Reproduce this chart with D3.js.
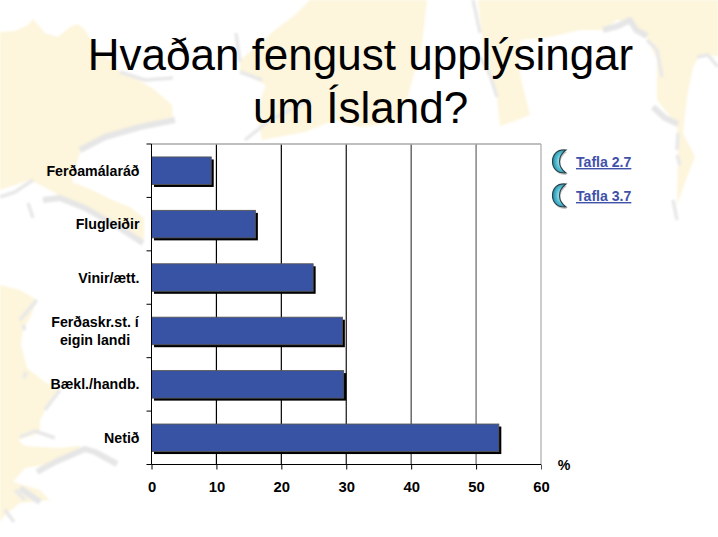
<!DOCTYPE html>
<html><head><meta charset="utf-8">
<script src="https://cdn.jsdelivr.net/npm/d3@7/dist/d3.min.js"></script>
<style>
html,body{margin:0;padding:0;background:#fff;overflow:hidden}
svg{display:block}
text{font-family:"Liberation Sans",Arial,sans-serif;fill:#000}
.lab{font-weight:bold;font-size:14.2px}
.tick text.lab{font-size:14.8px}
</style></head><body><div id="c"></div>
<script>
const categories = ["Ferðamálaráð","Flugleiðir","Vinir/ætt.","Ferðaskr.st. í|eigin landi","Bækl./handb.","Netið"];
const values = [9.2,16,24.9,29.4,29.6,53.5];
const xTicks = [0,10,20,30,40,50,60];
const gridColors = ["#000","#000","#000","#111","#444","#666","#aaa"];
const titleLines = ["Hvaðan fengust upplýsingar","um Ísland?"];
const links = ["Tafla 2.7","Tafla 3.7"];

// decorative background map
const landShapes = [
 "M0,32L15,31L28,25L33,19L45,33L58,37L70,27L78,24L85,30L95,47L112,62L120,72L135,78L155,90L172,105L173,117L140,125L105,135L82,148L76,165L72,182L92,190L112,200L130,207L144,218L144,240L110,225L75,205L50,190L30,180L0,190Z",
 "M0,285L20,290L37,300L30,318L23,330L21,345L27,368L45,382L60,390L48,405L40,420L40,433L18,440L25,446L60,448L78,446L85,449L60,458L45,465L25,468L13,482L40,490L50,500L20,503L5,515L0,522Z",
 "M310,0L427,0L422,45L415,70L407,100L397,122L360,127L335,120L305,132L262,140L258,118L262,95L266,85L240,72L240,60L258,45L275,30L295,15Z",
 "M478,0L718,0L718,56L700,55L693,67L687,97L683,133L695,157L686,180L677,205L678,150L677,125L657,100L657,60L647,38L630,22L617,20L603,30L580,30L550,37L520,40L520,75L530,115L512,122L500,126L497,97L484,55Z"
];
const coastWide = [
 "M175,120L140,127L105,137L80,150",
 "M43,200L60,198L85,208L120,228L143,243",
 "M603,30L618,26L630,20L636,30L647,36",
 "M653,107L665,118L678,124",
 "M40,502L20,488",
 "M117,464L95,452L85,449L55,462L37,472"
];
const coastThin = [
 "M0,197L15,192L33,180",
 "M28,203L33,218",
 "M120,72L145,80L173,78",
 "M236,33L240,62",
 "M37,300L20,320M26,372L24,378M23,325L25,330",
 "M60,390L45,410",
 "M20,437L35,431L55,438",
 "M15,490L25,500M5,510L14,522",
 "M240,72L262,80",
 "M245,140L270,120L310,100",
 "M473,0L480,33M480,57L490,75L497,97",
 "M647,40L657,50L662,77",
 "M678,133L677,150M677,155L680,165M673,200L677,220",
 "M697,57L708,55L718,67"
];

const W=718,H=537;
const svg=d3.select("#c").append("svg").attr("width",W).attr("height",H);
const defs=svg.append("defs");
defs.append("filter").attr("id","soft").append("feGaussianBlur").attr("stdDeviation",1);
const g0=defs.append("radialGradient").attr("id","moon").attr("cx","62%").attr("cy","50%").attr("r","60%");
g0.append("stop").attr("offset","0%").attr("stop-color","#d5f4f7");
g0.append("stop").attr("offset","55%").attr("stop-color","#55bfd4");
g0.append("stop").attr("offset","100%").attr("stop-color","#1f8aa3");

const bg=svg.append("g").attr("filter","url(#soft)");
bg.selectAll("path.l").data(landShapes).join("path").attr("class","l").attr("d",d=>d).attr("fill","#fdf5dc");
bg.selectAll("path.c").data(coastWide).join("path").attr("class","c").attr("d",d=>d)
  .attr("fill","none").attr("stroke","#e6e6e6").attr("stroke-width",6).attr("stroke-linejoin","round");
bg.selectAll("path.d").data(coastThin).join("path").attr("class","d").attr("d",d=>d)
  .attr("fill","none").attr("stroke","#e8e8e8").attr("stroke-width",3.5).attr("stroke-linejoin","round");

// title
svg.selectAll("text.t").data(titleLines).join("text").attr("class","t")
  .attr("x",360.5).attr("y",(d,i)=>69.5+i*53).attr("text-anchor","middle")
  .style("font-size","44px").text(d=>d);

const x=d3.scaleLinear().domain([0,60]).range([151.5,541]);
const y=d3.scaleBand().domain(categories).range([144,464.5]).paddingInner(0.485).paddingOuter(0.2425);

// plot background
svg.append("rect").attr("x",x(0)).attr("y",144).attr("width",x(60)-x(0)).attr("height",320.5).attr("fill","#fff");
// gridlines
svg.selectAll("line.g").data(xTicks.slice(1)).join("line").attr("class","g")
  .attr("x1",d=>x(d)).attr("x2",d=>x(d)).attr("y1",144).attr("y2",464.5)
  .attr("stroke",(d,i)=>gridColors[i+1]).attr("stroke-width",1.2);
svg.append("line").attr("x1",x(0)).attr("x2",x(60)).attr("y1",144).attr("y2",144).attr("stroke","#aaa").attr("stroke-width",1.3);

// bars
const bars=svg.selectAll("g.b").data(categories).join("g").attr("class","b");
bars.append("rect").attr("x",x(0)+2.5).attr("y",d=>y(d)+2.5)
  .attr("width",(d,i)=>x(values[i])-x(0)).attr("height",y.bandwidth()).attr("fill","#000");
bars.append("rect").attr("x",x(0)).attr("y",d=>y(d))
  .attr("width",(d,i)=>x(values[i])-x(0)).attr("height",y.bandwidth())
  .attr("fill","#3953a4").attr("stroke","#555").attr("stroke-width",.9);

// axes
const xa=svg.append("g").attr("transform","translate(0,464.5)")
  .call(d3.axisBottom(x).tickValues(xTicks).tickSize(5).tickPadding(12));
xa.selectAll("path,line").attr("stroke","#000");
xa.select(".domain").attr("d",`M${x(0)},0H${x(60)}`);
xa.selectAll("text").attr("class","lab").attr("font-family",null).attr("font-size",null);
xa.selectAll("line").attr("stroke",(d,i)=>i==6?"#555":"#000");

const ya=svg.append("g");
ya.append("line").attr("x1",x(0)).attr("x2",x(0)).attr("y1",144).attr("y2",464.5).attr("stroke","#000");
const edges=[...categories.map(d=>y(d)-y.step()*y.paddingOuter()),464.5];
ya.selectAll("line.t").data(edges).join("line").attr("class","t")
  .attr("x1",x(0)-5).attr("x2",x(0)).attr("y1",d=>d).attr("y2",d=>d).attr("stroke","#000");
ya.selectAll("text").data(categories).join("text").attr("class","lab")
  .each(function(d){
    const parts=d.split("|"), cy=y(d)+y.bandwidth()/2, sel=d3.select(this);
    if(parts.length==1){
      sel.attr("text-anchor","end").append("tspan").attr("x",139.5).attr("y",cy+5).text(d);
    } else {
      sel.attr("text-anchor","middle");
      parts.forEach((p,i)=>sel.append("tspan").attr("x",95).attr("y",cy+5-8.5+i*18).text(p));
    }
  });
svg.append("text").attr("class","lab").attr("x",564).attr("y",470).attr("text-anchor","middle").text("%");

// links
const lk=svg.selectAll("g.k").data(links).join("g").attr("class","k").attr("transform",(d,i)=>`translate(0,${i*34})`);
const moon="M566,150C556,149 552.5,155.5 552.5,161.5C552.5,167.5 556,173.5 566,173C562,170 559.5,166.5 559.5,161.5C559.5,156.5 562,153 566,150Z";
lk.append("path").attr("d",moon).attr("fill","#999").attr("opacity",.55).attr("transform","translate(1,2)");
lk.append("path").attr("d",moon).attr("fill","url(#moon)").attr("stroke","#2c3f48").attr("stroke-width",1.1);
lk.append("text").attr("x",576).attr("y",167).style("font-size","14.1px").style("font-weight","bold")
  .style("fill","#3f51a8").style("text-decoration","underline").text(d=>d);
</script></body></html>
